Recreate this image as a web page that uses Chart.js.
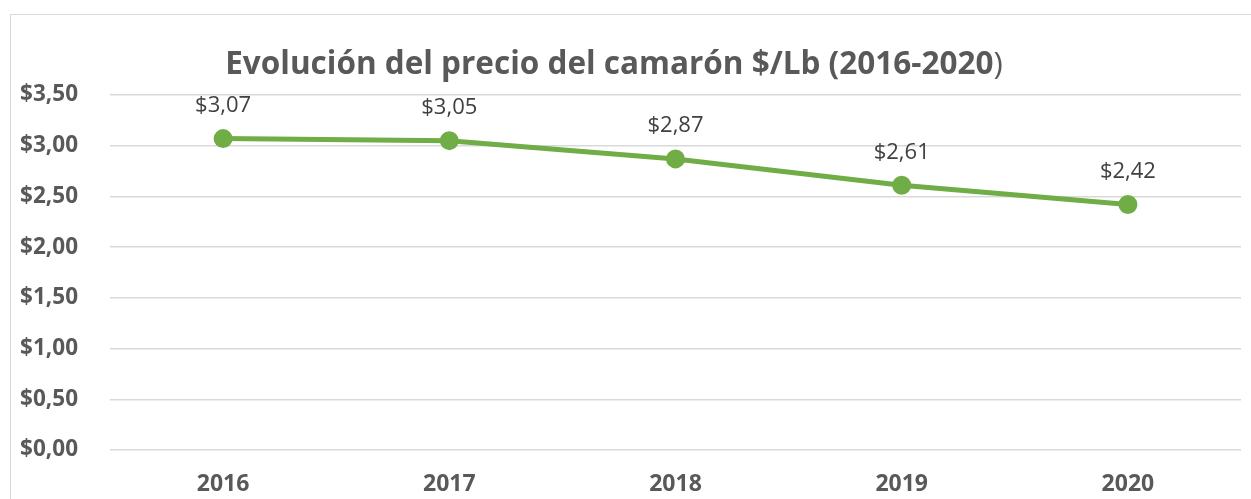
<!DOCTYPE html>
<html>
<head>
<meta charset="utf-8">
<script src="https://cdn.jsdelivr.net/npm/chart.js@4.4.1/dist/chart.umd.min.js"></script>
<style>
  html, body { margin: 0; padding: 0; background: #fff; overflow: hidden; }
  #marco {
    position: absolute; left: 10px; top: 14px;
    width: 1260px; height: 520px;
    border: 1.5px solid #d9d9d9; background: #fff;
  }
</style>
</head>
<body>
<div id="marco"><canvas id="graficoCamaron"></canvas></div>
<script>
// Datos del gráfico
const anios = ['2016', '2017', '2018', '2019', '2020'];
const precios = [3.07, 3.05, 2.87, 2.61, 2.42];
const tituloNegrita = 'Evolución del precio del camarón $/Lb (2016-2020';
const tituloFinal = ')';

function formatoPrecio(v) {
    return '$' + Number(v).toFixed(2).replace('.', ',');
}

// titulo dibujado a mano (el paréntesis final no va en negrita)
const pluginTitulo = {
    id: 'tituloExcel',
    afterDraw(chart) {
        const ctx = chart.ctx;
        ctx.save();
        ctx.textBaseline = 'middle';
        ctx.fillStyle = '#595959';
        const fNeg = 'bold 31.5px "Open Sans"';
        const fReg = '31.5px "Open Sans"';
        ctx.font = fNeg;
        const w1 = ctx.measureText(tituloNegrita).width;
        ctx.font = fReg;
        const w2 = ctx.measureText(tituloFinal).width;
        const x0 = 603 - (w1 + w2) / 2;
        ctx.textAlign = 'left';
        ctx.font = fNeg;
        ctx.fillText(tituloNegrita, x0, 50);
        ctx.font = fReg;
        ctx.fillText(tituloFinal, x0 + w1, 50);
        ctx.restore();
    }
};

// etiquetas de datos encima de cada punto
const pluginEtiquetas = {
    id: 'etiquetasDatos',
    afterDatasetsDraw(chart) {
        const ctx = chart.ctx;
        const meta = chart.getDatasetMeta(0);
        ctx.save();
        ctx.font = '22px "Open Sans"';
        ctx.fillStyle = '#404040';
        ctx.textAlign = 'center';
        ctx.textBaseline = 'middle';
        meta.data.forEach(function (p, i) {
            ctx.fillText(formatoPrecio(precios[i]), p.x, p.y - 33);
        });
        ctx.restore();
    }
};

document.addEventListener('DOMContentLoaded', function () {
    var ctx = document.getElementById('graficoCamaron').getContext('2d');
    new Chart(ctx, {
        type: 'line',
        data: {
            labels: anios,
            datasets: [{
                label: 'Precio $/Lb',
                data: precios,
                borderColor: '#70ad47',
                backgroundColor: '#70ad47',
                borderWidth: 5,
                pointRadius: 7,
                pointHoverRadius: 7,
                tension: 0
            }]
        },
        options: {
            responsive: true,
            maintainAspectRatio: false,
            animation: false,
            layout: { padding: { top: 80, right: 30, left: 0, bottom: 0 } },
            plugins: {
                legend: { display: false },
                title: { display: false },
                tooltip: { enabled: false }
            },
            scales: {
                x: {
                    offset: true,
                    grid: { display: false, drawTicks: false },
                    border: { display: false },
                    ticks: {
                        color: '#595959',
                        font: { family: 'Open Sans', size: 23, weight: 'bold' },
                        padding: 21,
                        maxRotation: 0
                    },
                    afterFit: function (s) { s.height = 85; }
                },
                y: {
                    min: 0,
                    max: 3.5,
                    grid: { color: '#d9d9d9', lineWidth: 1.5, drawTicks: false },
                    border: { display: false },
                    ticks: {
                        stepSize: 0.5,
                        color: '#595959',
                        font: { family: 'Open Sans', size: 22.5, weight: 'bold' },
                        padding: 32,
                        callback: function (v) { return formatoPrecio(v); }
                    },
                    afterFit: function (s) { s.width = 99; }
                }
            }
        },
        plugins: [pluginTitulo, pluginEtiquetas]
    });
});
</script>
</body>
</html>
